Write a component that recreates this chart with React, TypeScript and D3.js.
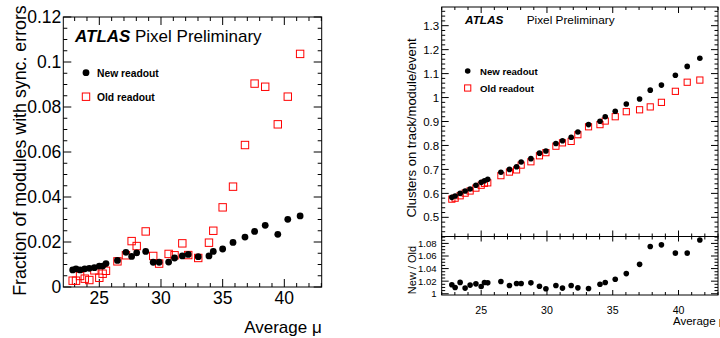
import React from 'react';
import * as d3 from 'd3';

// ---------- data ----------
const muLeft = [22.84, 23.11, 23.44, 23.82, 24.19, 24.6, 25.0, 25.27, 25.54, 26.47, 27.16, 27.62, 28.03, 28.76, 29.37, 29.85, 30.62, 31.1, 31.73, 32.21, 33.02, 33.89, 34.24, 35.0, 35.84, 36.81, 37.59, 38.45, 39.47, 40.28, 41.28];
const syncNew = [0.0076, 0.0081, 0.0076, 0.0081, 0.0083, 0.0086, 0.0093, 0.0093, 0.0104, 0.0118, 0.0154, 0.0136, 0.0152, 0.0158, 0.011, 0.011, 0.0111, 0.0129, 0.0138, 0.0145, 0.0135, 0.0138, 0.0158, 0.0169, 0.0198, 0.0222, 0.0247, 0.0274, 0.0234, 0.0301, 0.0316];
const syncOld = [0.0028, 0.0028, 0.0049, 0.0037, 0.0031, 0.0074, 0.0041, 0.0059, 0.0072, 0.0114, 0.0141, 0.0204, 0.0182, 0.0247, 0.0138, 0.0104, 0.0147, 0.0141, 0.0194, 0.0142, 0.0129, 0.0197, 0.025, 0.0354, 0.0446, 0.0631, 0.0904, 0.089, 0.0723, 0.0846, 0.1036];

const muRight = [22.77, 23.02, 23.4, 23.78, 24.16, 24.6, 25.0, 25.25, 25.5, 26.5, 27.15, 27.69, 28.04, 28.78, 29.43, 29.92, 30.68, 31.18, 31.84, 32.35, 33.16, 34.03, 34.43, 35.19, 36.03, 37.04, 37.85, 38.7, 39.76, 40.66, 41.62];
const clustersNew = [0.5835, 0.589, 0.6, 0.61, 0.618, 0.634, 0.646, 0.653, 0.659, 0.688, 0.7, 0.711, 0.731, 0.745, 0.768, 0.777, 0.808, 0.82, 0.834, 0.856, 0.887, 0.901, 0.92, 0.943, 0.973, 0.994, 1.031, 1.052, 1.093, 1.13, 1.164];
const clustersOld = [0.576, 0.58, 0.59, 0.601, 0.61, 0.622, 0.634, 0.642, 0.644, 0.674, 0.689, 0.698, 0.718, 0.732, 0.757, 0.77, 0.797, 0.811, 0.817, 0.845, 0.878, 0.887, 0.902, 0.92, 0.941, 0.949, 0.961, 0.98, 1.026, 1.064, 1.073];
const ratioNewOld = [1.0142, 1.01, 1.018, 1.009, 1.0137, 1.0157, 1.0115, 1.0178, 1.0173, 1.0194, 1.013, 1.0162, 1.0162, 1.0173, 1.012, 1.0079, 1.013, 1.009, 1.013, 1.0094, 1.0084, 1.0152, 1.0178, 1.023, 1.032, 1.0467, 1.075, 1.0777, 1.0646, 1.0646, 1.0855];

const xTickLabels = [25, 30, 35, 40];
const syncTicks = [0, 0.02, 0.04, 0.06, 0.08, 0.1, 0.12];
const clusterTicks = [0.5, 0.6, 0.7, 0.8, 0.9, 1, 1.1, 1.2, 1.3];
const ratioTicks = [1, 1.02, 1.04, 1.06, 1.08];

const FONT = "'Liberation Sans', Arial, Helvetica, sans-serif";
const RED = '#ff0000';

type Lin = d3.ScaleLinear<number, number>;

function fmt(v: number) {
  return String(+v.toFixed(3));
}

function minorTicks(s: Lin, step: number) {
  const [a, b] = s.domain();
  const start = Math.ceil(a / step - 1e-9) * step;
  const out: number[] = [];
  for (let v = start; v <= b + 1e-9; v += step) out.push(+v.toFixed(6));
  return out;
}

function XTicks({ x, y, dir, major, minorStep, majLen, minLen }: { x: Lin; y: number; dir: number; major: number[]; minorStep: number; majLen: number; minLen: number }) {
  const minors = minorTicks(x, minorStep);
  return (
    <g stroke="#000" strokeWidth={1}>
      {minors.map((v, i) => {
        const isMaj = major.some((m) => Math.abs(m - v) < 1e-6);
        const len = isMaj ? majLen : minLen;
        const px = x(v);
        return <line key={i} x1={px} x2={px} y1={y} y2={y + dir * len} />;
      })}
    </g>
  );
}

function YTicks({ ys, x, dir, major, minorStep, majLen, minLen }: { ys: Lin; x: number; dir: number; major: number[]; minorStep: number; majLen: number; minLen: number }) {
  const minors = minorTicks(ys, minorStep);
  return (
    <g stroke="#000" strokeWidth={1}>
      {minors.map((v, i) => {
        const isMaj = major.some((m) => Math.abs(m - v) < 1e-6);
        const len = isMaj ? majLen : minLen;
        const py = ys(v);
        return <line key={i} x1={x} x2={x + dir * len} y1={py} y2={py} />;
      })}
    </g>
  );
}

export default function App() {
  // left panel
  const xL = d3.scaleLinear().domain([22.08, 43.03]).range([63.3, 321.7]);
  const yL = d3.scaleLinear().domain([0, 0.12]).range([287, 17]);
  // right panel
  const xR = d3.scaleLinear().domain([22, 43]).range([441.7, 718]);
  const yR = d3.scaleLinear().domain([0.42, 1.378]).range([236.5, 7]);
  const yQ = d3.scaleLinear().domain([0.998, 1.091]).range([295, 236.5]);

  const Lx0 = xL.range()[0], Lx1 = xL.range()[1], Ly0 = yL.range()[1], Ly1 = yL.range()[0];
  const Rx0 = xR.range()[0], Rx1 = xR.range()[1], Ry0 = yR.range()[1], Ry1 = yR.range()[0], Qy1 = yQ.range()[0];

  const sqL = 7.4;
  const sqR = 6.2;

  return (
    <svg width={720} height={338} style={{ position: 'absolute', left: 0, top: 0, background: '#fff' }} fontFamily={FONT}>
      <rect x={0} y={0} width={720} height={338} fill="#fff" />

      {/* ================= LEFT PANEL ================= */}
      <rect x={Lx0} y={Ly0} width={Lx1 - Lx0} height={Ly1 - Ly0} fill="none" stroke="#000" strokeWidth={1} />
      <XTicks x={xL} y={Ly1} dir={-1} major={xTickLabels} minorStep={1} majLen={8} minLen={4} />
      <XTicks x={xL} y={Ly0} dir={1} major={xTickLabels} minorStep={1} majLen={8} minLen={4} />
      <YTicks ys={yL} x={Lx0} dir={1} major={syncTicks} minorStep={0.005} majLen={8} minLen={4} />
      <YTicks ys={yL} x={Lx1} dir={-1} major={syncTicks} minorStep={0.005} majLen={8} minLen={4} />
      {syncTicks.map((t) => (
        <text key={t} x={Lx0 - 2} y={yL(t)} dy="0.36em" textAnchor="end" fontSize={17.5}>{fmt(t)}</text>
      ))}
      {xTickLabels.map((t) => (
        <text key={t} x={xL(t)} y={304} textAnchor="middle" fontSize={17.5}>{t}</text>
      ))}
      <text x={Lx1} y={333} textAnchor="end" fontSize={17}>Average μ</text>
      <text transform={`translate(26,150.5) rotate(-90)`} textAnchor="middle" fontSize={17.8}>Fraction of modules with sync. errors</text>

      {syncOld.map((v, i) => (
        <rect key={'o' + i} x={xL(muLeft[i]) - sqL / 2} y={yL(v) - sqL / 2} width={sqL} height={sqL} fill="none" stroke={RED} strokeWidth={1} />
      ))}
      {syncNew.map((v, i) => (
        <circle key={'n' + i} cx={xL(muLeft[i])} cy={yL(v)} r={3.4} fill="#000" />
      ))}

      <text x={75} y={41.5} fontSize={17} fontWeight="bold" fontStyle="italic">ATLAS</text>
      <text x={135} y={41.5} fontSize={17}>Pixel Preliminary</text>
      <circle cx={86} cy={72.7} r={3.4} fill="#000" />
      <text x={97} y={76.5} fontSize={10.3} fontWeight="bold">New readout</text>
      <rect x={86 - sqL / 2} y={96.7 - sqL / 2} width={sqL} height={sqL} fill="none" stroke={RED} strokeWidth={1} />
      <text x={97} y={100.5} fontSize={10.3} fontWeight="bold">Old readout</text>

      {/* ================= RIGHT PANEL (top) ================= */}
      <rect x={Rx0} y={Ry0} width={Rx1 - Rx0} height={Ry1 - Ry0} fill="none" stroke="#000" strokeWidth={1} />
      <XTicks x={xR} y={Ry1} dir={-1} major={xTickLabels} minorStep={1} majLen={6} minLen={3} />
      <XTicks x={xR} y={Ry0} dir={1} major={xTickLabels} minorStep={1} majLen={6} minLen={3} />
      <YTicks ys={yR} x={Rx0} dir={1} major={clusterTicks} minorStep={0.02} majLen={7} minLen={3.5} />
      <YTicks ys={yR} x={Rx1} dir={-1} major={clusterTicks} minorStep={0.02} majLen={7} minLen={3.5} />
      {clusterTicks.map((t) => (
        <text key={t} x={Rx0 - 2.5} y={yR(t)} dy="0.36em" textAnchor="end" fontSize={11.5}>{fmt(t)}</text>
      ))}
      <text transform={`translate(416,128) rotate(-90)`} textAnchor="middle" fontSize={13}>Clusters on track/module/event</text>

      {clustersOld.map((v, i) => (
        <rect key={'co' + i} x={xR(muRight[i]) - sqR / 2} y={yR(v) - sqR / 2} width={sqR} height={sqR} fill="none" stroke={RED} strokeWidth={1} />
      ))}
      {clustersNew.map((v, i) => (
        <circle key={'cn' + i} cx={xR(muRight[i])} cy={yR(v)} r={2.8} fill="#000" />
      ))}

      <text x={465} y={24} fontSize={11.8} fontWeight="bold" fontStyle="italic">ATLAS</text>
      <text x={526.7} y={24} fontSize={11.8}>Pixel Preliminary</text>
      <circle cx={467.7} cy={71} r={2.8} fill="#000" />
      <text x={480} y={74.5} fontSize={9.6} fontWeight="bold">New readout</text>
      <rect x={467.7 - sqR / 2} y={88 - sqR / 2} width={sqR} height={sqR} fill="none" stroke={RED} strokeWidth={1} />
      <text x={480} y={91.5} fontSize={9.6} fontWeight="bold">Old readout</text>

      {/* ================= RIGHT PANEL (ratio) ================= */}
      <rect x={Rx0} y={Ry1} width={Rx1 - Rx0} height={Qy1 - Ry1} fill="none" stroke="#000" strokeWidth={1} />
      <XTicks x={xR} y={Qy1} dir={-1} major={xTickLabels} minorStep={1} majLen={5} minLen={3} />
      <XTicks x={xR} y={Ry1} dir={1} major={xTickLabels} minorStep={1} majLen={5} minLen={3} />
      <YTicks ys={yQ} x={Rx0} dir={1} major={ratioTicks} minorStep={0.005} majLen={7} minLen={3.5} />
      <YTicks ys={yQ} x={Rx1} dir={-1} major={ratioTicks} minorStep={0.005} majLen={7} minLen={3.5} />
      {ratioTicks.map((t) => (
        <text key={t} x={Rx0 - 5} y={yQ(t)} dy="0.36em" textAnchor="end" fontSize={9.6}>{fmt(t)}</text>
      ))}
      {xTickLabels.map((t) => (
        <text key={t} x={xR(t)} y={314} textAnchor="middle" fontSize={10.6}>{t}</text>
      ))}
      <text x={673} y={325} fontSize={11.5}>Average μ</text>
      <text transform={`translate(416,270) rotate(-90)`} textAnchor="middle" fontSize={11}>New / Old</text>

      {ratioNewOld.map((v, i) => (
        <circle key={'r' + i} cx={xR(muRight[i])} cy={yQ(v)} r={2.8} fill="#000" />
      ))}
    </svg>
  );
}
